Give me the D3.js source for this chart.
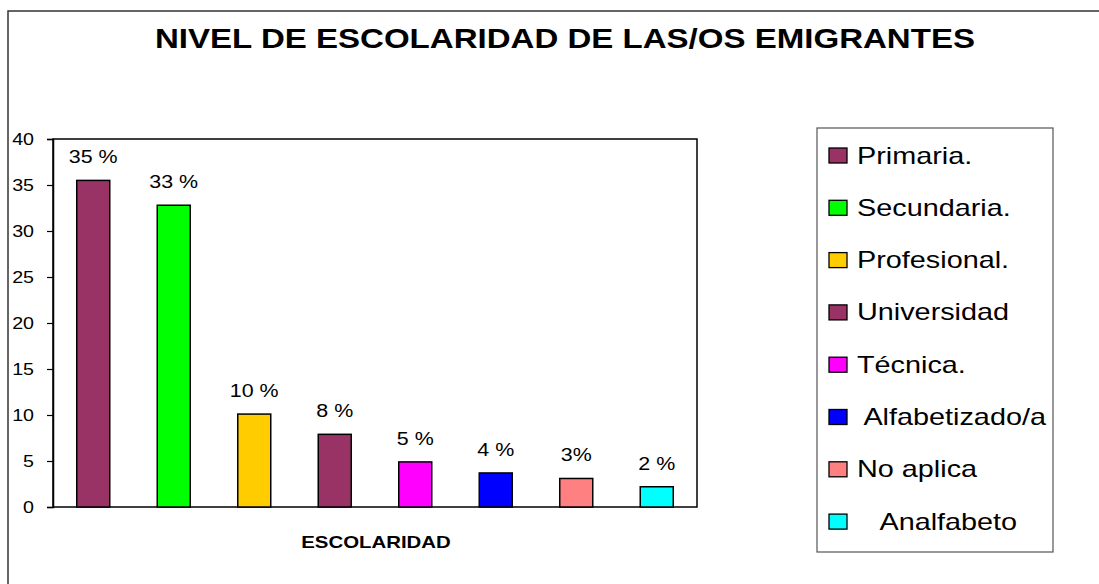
<!DOCTYPE html>
<html><head><meta charset="utf-8">
<script src="https://cdn.jsdelivr.net/npm/d3@7"></script>
<style>
html,body{margin:0;padding:0;background:#fff;}
text{font-family:"Liberation Sans",Arial,sans-serif;white-space:pre;}
</style></head>
<body><svg id="c" width="1099" height="584"></svg>
<script>
const categories = ["Primaria.","Secundaria.","Profesional.","Universidad","Técnica.","Alfabetizado/a","No aplica","Analfabeto"];
const legendLabels = ["Primaria.","Secundaria.","Profesional.","Universidad","Técnica."," Alfabetizado/a","No aplica","   Analfabeto"];
const values = [35.5, 32.8, 10.1, 7.9, 4.9, 3.7, 3.1, 2.2];
const valueLabels = ["35 %","33 %","10 %","8 %","5 %","4 %","3%","2 %"];
const colors = ["#993366","#00FF00","#FFCC00","#993366","#FF00FF","#0000FF","#FF8080","#00FFFF"];
const yTicks = [0,5,10,15,20,25,30,35,40];
const title = "NIVEL DE ESCOLARIDAD DE LAS/OS EMIGRANTES";
const xTitle = "ESCOLARIDAD";

const SX = 1.19; // horizontal stretch of text in the reference
const svg = d3.select("#c");
function stretch(sel, sx){ sx = sx || SX; sel.each(function(){ const w=this.getComputedTextLength(); this.setAttribute("textLength", w*sx); this.setAttribute("lengthAdjust","spacingAndGlyphs"); }); return sel; }

// outer frame
svg.append("path").attr("d","M8,590 L8,11 L1105,11").attr("fill","none").attr("stroke","#333").attr("stroke-width",1.5);

// title
stretch(svg.append("text").attr("x",565).attr("y",48).attr("text-anchor","middle")
  .attr("font-size",28).attr("font-weight","bold").text(title), 1.18);

const L=53,T=139,R=697,B=507;
const x = d3.scaleBand().domain(categories).range([L,R]).paddingInner(0.59).paddingOuter(0.295);
const y = d3.scaleLinear().domain([0,40]).range([B,T]);

// plot frame
svg.append("rect").attr("x",L).attr("y",T).attr("width",R-L).attr("height",B-T).attr("fill","none").attr("stroke","#000").attr("stroke-width",1.5);

// y axis
const ya = svg.append("g").attr("transform",`translate(${L},0)`)
  .call(d3.axisLeft(y).tickValues(yTicks).tickSize(6).tickPadding(13));
ya.select(".domain").attr("stroke","#000").attr("stroke-width",1.5);
ya.selectAll(".tick line").attr("stroke","#000").attr("stroke-width",1.2);
ya.selectAll(".tick text").attr("font-size",16.5).attr("fill","#000").attr("font-family","Liberation Sans, Arial, sans-serif");
stretch(ya.selectAll(".tick text"));

// bars
svg.selectAll("rect.bar").data(values).enter().append("rect").attr("class","bar")
  .attr("x",(d,i)=>x(categories[i])).attr("width",x.bandwidth())
  .attr("y",d=>y(d)).attr("height",d=>B-y(d))
  .attr("fill",(d,i)=>colors[i]).attr("stroke","#000").attr("stroke-width",1.5);

// value labels
stretch(svg.selectAll("text.vl").data(values).enter().append("text").attr("class","vl")
  .attr("x",(d,i)=>x(categories[i])+x.bandwidth()/2).attr("y",d=>y(d)-17)
  .attr("text-anchor","middle").attr("font-size",18).text((d,i)=>valueLabels[i]));

// x title
stretch(svg.append("text").attr("x",376).attr("y",548).attr("text-anchor","middle")
  .attr("font-size",17).attr("font-weight","bold").text(xTitle), 1.2);

// legend
svg.append("rect").attr("x",817).attr("y",128).attr("width",236).attr("height",424)
  .attr("fill","#fff").attr("stroke","#555").attr("stroke-width",1.2);
const lg = svg.selectAll("g.li").data(legendLabels).enter().append("g").attr("class","li")
  .attr("transform",(d,i)=>`translate(0,${155.5+i*52.3})`);
lg.append("rect").attr("x",829).attr("y",-7.5).attr("width",18).attr("height",15)
  .attr("fill",(d,i)=>colors[i]).attr("stroke","#000").attr("stroke-width",1.3);
stretch(lg.append("text").attr("x",857).attr("y",8).attr("font-size",24).text(d=>d), 1.2);
</script></body></html>
